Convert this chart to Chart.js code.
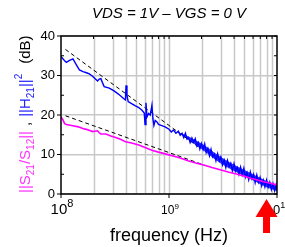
<!DOCTYPE html>
<html>
<head>
<meta charset="utf-8">
<script src="https://cdn.jsdelivr.net/npm/chart.js@4.4.1/dist/chart.umd.min.js"></script>
<style>
  html, body { margin: 0; padding: 0; background: #fff; }
  #wrap { width: 285px; height: 247px; }
</style>
</head>
<body>
<div id="wrap"><canvas id="chart" width="285" height="247"></canvas></div>
<script>
// |H21|^2 (dB) vs frequency
const freqH21 = [
  1.0e8, 1.06e8, 1.12e8, 1.2e8, 1.29e8, 1.38e8, 1.48e8, 1.6e8, 1.72e8, 1.83e8,
  1.96e8, 2.05e8, 2.18e8, 2.26e8, 2.34e8, 2.42e8, 2.51e8, 2.8e8, 3.1e8, 3.4e8,
  3.82e8, 3.95e8, 4.0e8, 4.08e8, 4.19e8, 4.5e8, 4.89e8, 5.25e8, 5.62e8, 5.9e8,
  6.0e8, 6.12e8, 6.25e8, 6.47e8, 6.7e8, 6.95e8, 7.1e8, 7.25e8, 7.45e8, 7.71e8,
  8.0e8, 8.57e8, 9.2e8,
  1.0e9, 1.05e9, 1.1e9, 1.16e9, 1.22e9, 1.27e9, 1.32e9, 1.37e9, 1.42e9, 1.47e9,
  1.52e9, 1.57e9, 1.63e9, 1.69e9, 1.75e9, 1.81e9, 1.87e9, 1.93e9, 2.0e9, 2.07e9,
  2.14e9, 2.21e9, 2.29e9, 2.37e9, 2.45e9, 2.54e9, 2.63e9, 2.72e9, 2.82e9, 2.92e9,
  3.02e9, 3.13e9, 3.24e9, 3.36e9, 3.48e9, 3.6e9, 3.73e9, 3.86e9, 4.0e9, 4.14e9,
  4.29e9, 4.44e9, 4.6e9, 4.76e9, 4.93e9, 5.1e9, 5.28e9, 5.47e9, 5.66e9, 5.86e9,
  6.07e9, 6.28e9, 6.5e9, 6.73e9, 6.97e9, 7.22e9, 7.47e9, 7.73e9, 8.0e9, 8.28e9,
  8.57e9, 8.87e9, 9.18e9, 9.5e9, 9.83e9, 1.0e10
];
const dbH21 = [
  34.8, 34.0, 33.3, 33.8, 34.2, 32.8, 31.4, 31.0, 30.7, 30.4,
  29.8, 29.3, 28.6, 29.1, 29.2, 28.2, 27.2, 26.8, 26.1, 25.3,
  24.1, 23.8, 27.5, 25.0, 23.4, 22.9, 22.3, 21.9, 21.2, 20.5,
  17.6, 23.1, 19.5, 20.4, 20.0, 22.5, 19.0, 17.4, 18.6, 18.3,
  17.6, 17.3, 17.0,
  16.4, 15.7, 16.2, 15.4, 15.9, 14.9, 15.4, 14.3, 15.4, 13.9,
  14.3, 13.0, 14.2, 13.1, 14.0, 12.2, 13.0, 11.4, 12.8, 11.3,
  12.7, 10.5, 11.5, 9.7, 11.3, 9.4, 10.1, 8.4, 10.2, 8.4,
  9.4, 7.4, 8.6, 6.7, 8.5, 6.9, 7.8, 5.9, 7.7, 5.8,
  6.7, 5.0, 6.8, 4.9, 6.5, 4.3, 5.4, 3.6, 5.6, 3.9,
  5.0, 2.9, 4.8, 3.0, 4.2, 2.1, 3.5, 1.8, 3.5, 1.7,
  3.0, 1.1, 2.6, 0.8, 2.4, 1.0
];

// noise envelope of |H21|^2 at high frequency
const bandFreq = [
  1.3e9, 1.5e9, 1.75e9, 2.0e9, 2.3e9, 2.6e9, 3.0e9, 3.5e9, 4.0e9, 4.5e9,
  5.0e9, 5.5e9, 6.0e9, 6.5e9, 7.0e9, 7.5e9, 8.0e9, 9.0e9, 1.0e10
];
const bandHigh = [
  15.4, 14.6, 13.7, 12.8, 11.7, 10.6, 9.4, 8.3, 7.4, 6.7,
  6.1, 5.5, 5.0, 4.5, 4.1, 3.7, 3.3, 2.7, 2.2
];
const bandLow = [
  15.0, 13.8, 12.5, 11.4, 10.1, 9.0, 7.8, 6.7, 5.8, 5.1,
  4.5, 4.0, 3.4, 3.0, 2.5, 2.1, 1.7, 1.2, 0.7
];

// |S21/S12| (dB)
const freqGain = [
  1.0e8, 1.04e8, 1.08e8, 1.12e8, 1.29e8, 1.45e8, 1.59e8, 1.75e8, 1.96e8, 2.05e8,
  2.18e8, 2.26e8, 2.34e8, 2.6e8, 2.9e8, 3.21e8, 3.6e8, 3.96e8, 4.5e8, 5.25e8,
  6.0e8, 6.94e8, 8.0e8, 1.0e9, 1.25e9, 1.5e9, 1.8e9, 2.13e9, 2.5e9, 3.03e9,
  3.6e9, 4.3e9, 5.0e9, 5.7e9, 6.5e9, 7.5e9, 8.5e9, 1.0e10
];
const dbGain = [
  19.5, 18.8, 17.8, 17.6, 17.3, 17.0, 16.6, 16.3, 15.8, 15.9,
  16.0, 15.5, 15.2, 15.2, 14.7, 14.3, 13.8, 13.2, 12.9, 12.4,
  11.8, 11.1, 10.6, 9.9, 9.2, 8.4, 7.8, 7.3, 6.7, 6.1,
  5.5, 5.0, 4.5, 4.0, 3.6, 3.1, 2.8, 2.3
];

// dashed asymptotes (-20 dB/dec and -10 dB/dec)
const fitH21Freq = [1.1e8, 1.85e9];
const fitH21Db = [36.6, 12.0];
const fitGainFreq = [1.1e8, 2.13e9];
const fitGainDb = [19.8, 7.3];

const yTickValues = [0, 10, 20, 30, 40];
const xDecades = [1e8, 1e9, 1e10];
const xDecadeExp = ["8", "9", "10"];
const xLabelSize = [15, 12, 13];
const arrowFreq = 8e9;

function toPoints(xs, ys) {
  return xs.map((x, i) => ({ x: x, y: ys[i] }));
}

// minor grid positions 2..9 in each decade
let minorGrid = [];
for (let d of [1e8, 1e9]) {
  for (let k = 2; k <= 9; k++) minorGrid.push(k * d);
}
minorGrid.push(1e9);

function drawParts(ctx, parts, x, y) {
  let cx = x;
  for (let p of parts) {
    ctx.font = p.size + "px 'Liberation Sans', Arial, sans-serif";
    ctx.fillStyle = p.color;
    ctx.fillText(p.t, cx, y + (p.dy || 0));
    cx += ctx.measureText(p.t).width + (p.gap || 0);
  }
  return cx - x;
}

function partsWidth(ctx, parts) {
  let w = 0;
  for (let p of parts) {
    ctx.font = p.size + "px 'Liberation Sans', Arial, sans-serif";
    w += ctx.measureText(p.t).width + (p.gap || 0);
  }
  return w;
}

const decorPlugin = {
  id: "decor",
  beforeDatasetsDraw(chart) {
    const ctx = chart.ctx;
    const a = chart.chartArea;
    const xs = chart.scales.x;
    ctx.save();
    ctx.strokeStyle = "#c8c8c8";
    ctx.lineWidth = 1.5;
    for (let v of minorGrid) {
      const px = Math.round(xs.getPixelForValue(v)) + 0.5;
      ctx.beginPath();
      ctx.moveTo(px, a.top);
      ctx.lineTo(px, a.bottom);
      ctx.stroke();
    }
    ctx.restore();
  },
  afterDraw(chart) {
    const ctx = chart.ctx;
    const a = chart.chartArea;
    const xs = chart.scales.x;
    const ys = chart.scales.y;
    ctx.save();

    // frame
    ctx.strokeStyle = "#000";
    ctx.lineWidth = 1.5;
    ctx.strokeRect(a.left, a.top, a.right - a.left, a.bottom - a.top);

    // ticks
    ctx.lineWidth = 1;
    ctx.beginPath();
    for (let v of xDecades) {
      const px = xs.getPixelForValue(v);
      ctx.moveTo(px, a.bottom); ctx.lineTo(px, a.bottom + 4);
    }
    for (let v of minorGrid) {
      const px = xs.getPixelForValue(v);
      ctx.moveTo(px, a.top); ctx.lineTo(px, a.top + 3);
    }
    for (let v = 0; v <= 40; v += 5) {
      const py = ys.getPixelForValue(v);
      const len = v % 10 === 0 ? 4 : 3;
      ctx.moveTo(a.left, py); ctx.lineTo(a.left + (v % 10 === 0 ? -len : len), py);
      ctx.moveTo(a.right, py); ctx.lineTo(a.right - 3, py);
    }
    ctx.stroke();

    // y tick labels
    ctx.font = "13px 'Liberation Sans', Arial, sans-serif";
    ctx.fillStyle = "#000";
    ctx.textAlign = "right";
    ctx.textBaseline = "middle";
    for (let v of yTickValues) {
      ctx.fillText(String(v), a.left - 6, ys.getPixelForValue(v));
    }

    // x tick labels 10^n
    ctx.textAlign = "left";
    ctx.textBaseline = "alphabetic";
    xDecades.forEach((v, i) => {
      const s = xLabelSize[i];
      const parts = [
        { t: "10", size: s, color: "#000" },
        { t: xDecadeExp[i], size: Math.round(s * 0.7), color: "#000", dy: -s * 0.45 }
      ];
      const w = partsWidth(ctx, parts);
      drawParts(ctx, parts, xs.getPixelForValue(v) - w / 2 + 1, 214);
    });

    // x title
    ctx.font = "18px 'Liberation Sans', Arial, sans-serif";
    ctx.textAlign = "center";
    ctx.fillText("frequency (Hz)", 169, 241);

    // title
    ctx.font = "italic 15px 'Liberation Sans', Arial, sans-serif";
    ctx.fillText("VDS = 1V \u2013 VGS = 0 V", 169, 18);

    // y title, rotated, multi-colour
    ctx.textAlign = "left";
    ctx.translate(30, 193);
    ctx.rotate(-Math.PI / 2);
    const mag = "#ff33ff";
    const blu = "#2222ff";
    drawParts(ctx, [
      { t: "||S", size: 15, color: mag },
      { t: "21", size: 10, color: mag, dy: 4 },
      { t: "/S", size: 15, color: mag },
      { t: "12", size: 10, color: mag, dy: 4 },
      { t: "||", size: 15, color: mag, gap: 5 },
      { t: ",", size: 15, color: "#000", gap: 5 },
      { t: "||H", size: 15, color: blu },
      { t: "21", size: 10, color: blu, dy: 4 },
      { t: "||", size: 15, color: blu },
      { t: "2", size: 10, color: blu, dy: -8, gap: 10 },
      { t: "(dB)", size: 15, color: "#000" }
    ], 0, 0);
    ctx.setTransform(1, 0, 0, 1, 0, 0);

    // red arrow
    const ax = xs.getPixelForValue(arrowFreq);
    ctx.fillStyle = "#ff0000";
    ctx.beginPath();
    ctx.moveTo(ax, 199);
    ctx.lineTo(ax + 11, 217);
    ctx.lineTo(ax + 3.5, 217);
    ctx.lineTo(ax + 3.5, 233);
    ctx.lineTo(ax - 3.5, 233);
    ctx.lineTo(ax - 3.5, 217);
    ctx.lineTo(ax - 11, 217);
    ctx.closePath();
    ctx.fill();

    ctx.restore();
  }
};

new Chart(document.getElementById("chart"), {
  type: "line",
  data: {
    datasets: [
      {
        label: "|S21/S12|",
        data: toPoints(freqGain, dbGain),
        borderColor: "#ff00ff",
        borderWidth: 1.6,
        pointRadius: 0,
        tension: 0,
      },
      {
        label: "|H21|^2",
        data: toPoints(freqH21, dbH21),
        borderColor: "#0000ff",
        borderWidth: 1.4,
        pointRadius: 0,
        tension: 0,
      },
      {
        label: "fit H21",
        data: toPoints(fitH21Freq, fitH21Db),
        borderColor: "#000",
        borderWidth: 1,
        borderDash: [4, 3],
        pointRadius: 0,
      },
      {
        label: "fit gain",
        data: toPoints(fitGainFreq, fitGainDb),
        borderColor: "#000",
        borderWidth: 1,
        borderDash: [4, 3],
        pointRadius: 0,
      },
      {
        label: "band high",
        data: toPoints(bandFreq, bandHigh),
        borderWidth: 0,
        pointRadius: 0,
        fill: false,
      },
      {
        label: "band low",
        data: toPoints(bandFreq, bandLow),
        backgroundColor: "rgba(0,0,255,0.8)",
        borderWidth: 0,
        pointRadius: 0,
        fill: "-1",
      },
    ],
  },
  options: {
    responsive: false,
    animation: false,
    events: [],
    layout: { padding: { left: 61, right: 8, top: 36, bottom: 53 } },
    plugins: { legend: { display: false }, tooltip: { enabled: false } },
    scales: {
      x: {
        type: "logarithmic",
        min: 1e8,
        max: 1e10,
        ticks: { display: false },
        grid: { display: false, drawTicks: false },
        border: { display: false },
      },
      y: {
        type: "linear",
        min: 0,
        max: 40,
        ticks: { display: false, stepSize: 10 },
        grid: { color: "#c8c8c8", lineWidth: 1.5, drawTicks: false },
        border: { display: false },
      },
    },
  },
  plugins: [decorPlugin],
});
</script>
</body>
</html>
